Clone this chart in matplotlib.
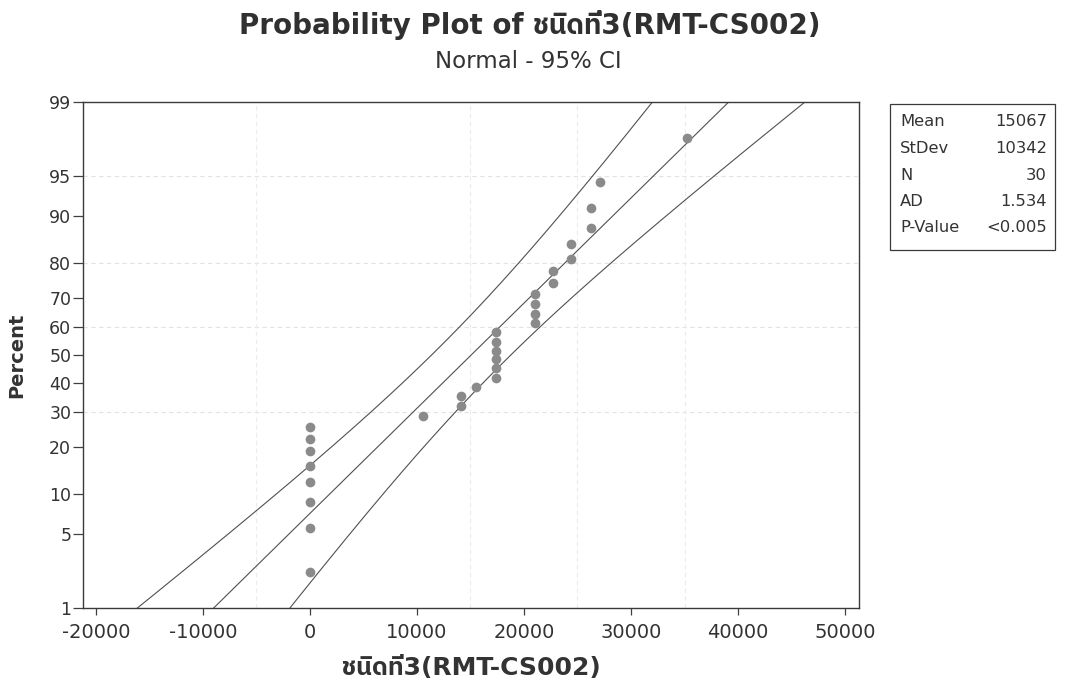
import numpy as np
import matplotlib
matplotlib.use("Agg")
import matplotlib.pyplot as plt
from statistics import NormalDist

# ค่าที่อ่านจากกราฟ (30 ตัวอย่าง)
values = [0, 0, 0, 0, 0, 0, 0, 0,
          10600, 14100, 14100, 15500,
          17400, 17400, 17400, 17400, 17400, 17400,
          21000, 21000, 21000, 21000,
          22700, 22700, 24400, 24400, 26300, 26300,
          27100, 35200]

stat_names = ["Mean", "StDev", "N", "AD", "P-Value"]
stat_values = ["15067", "10342", "30", "1.534", "<0.005"]
MEAN = 15067
STDEV = 10342

y_ticks = [1, 5, 10, 20, 30, 40, 50, 60, 70, 80, 90, 95, 99]
x_ticks = [-20000, -10000, 0, 10000, 20000, 30000, 40000, 50000]
grid_y = [95, 80, 60, 30]
grid_x = [-5000, 15000, 25000, 35000]

FONT = ["DejaVu Sans", "IBM Plex Sans Thai"]
plt.rcParams["font.family"] = FONT

W, H = 1066, 685
nd = NormalDist()
def z(p):
    return nd.inv_cdf(p / 100.0)

x = np.sort(np.array(values, dtype=float))
n = len(x)
ranks = np.arange(1, n + 1)
pct = (ranks - 0.3) / (n + 0.4) * 100
zp = np.array([z(p) for p in pct])

# เส้น fit และช่วงความเชื่อมั่น 95%
zz = np.linspace(z(0.5), z(99.5), 200)
fit = MEAN + zz * STDEV
se = np.sqrt(STDEV**2 / n + zz**2 * STDEV**2 / (2 * n))
lo = fit - 1.96 * se
hi = fit + 1.96 * se

fig = plt.figure(figsize=(W / 100, H / 100), dpi=100)
ax = fig.add_axes([83 / W, 1 - 608 / H, 776 / W, 506 / H])

for g in grid_y:
    ax.axhline(z(g), color="#e3e3e3", lw=0.8, ls=(0, (4, 3)), zorder=0)
for g in grid_x:
    ax.axvline(g, color="#ececec", lw=0.8, ls=(0, (4, 3)), zorder=0)

ax.plot(fit, zz, color="#505050", lw=0.8)
ax.plot(lo, zz, color="#505050", lw=0.8)
ax.plot(hi, zz, color="#505050", lw=0.8)
ax.plot(x, zp, "o", color="#8a8a8a", markersize=7, markeredgewidth=0, zorder=3)

ax.set_xlim(-21200, 51300)
ax.set_ylim(z(1), z(99))
ax.set_xticks(x_ticks)
ax.set_xticklabels([str(t) for t in x_ticks])
ax.set_yticks([z(t) for t in y_ticks])
ax.set_yticklabels([str(t) for t in y_ticks])
ax.tick_params(axis="x", direction="out", length=5, width=0.9, colors="#404040",
               labelsize=14, labelcolor="#333333", pad=6)
ax.tick_params(axis="y", direction="out", length=7, width=0.9, colors="#404040",
               labelsize=12.5, labelcolor="#333333", pad=1.5)
for s in ax.spines.values():
    s.set_color("#3a3a3a")
    s.set_linewidth(1.0)

ax.set_ylabel("Percent", fontsize=14, fontweight="bold", color="#333333", labelpad=16)
ax.set_xlabel("ชนิดที่3(RMT-CS002)", fontsize=18, fontweight="bold", color="#333333", labelpad=10)

fig.text(530 / W, 1 - 34 / H, "Probability Plot of ชนิดที่3(RMT-CS002)", ha="center",
         va="baseline", fontsize=20, fontweight="bold", color="#303030")
fig.text(528 / W, 1 - 68 / H, "Normal - 95% CI", ha="center", va="baseline",
         fontsize=16.5, color="#333333")

# กล่องสถิติ
bx0, bx1 = 890 / W, 1055 / W
by0, by1 = 1 - 250 / H, 1 - 104 / H
fig.patches.append(plt.Rectangle((bx0, by0), bx1 - bx0, by1 - by0, transform=fig.transFigure,
                                 fill=False, edgecolor="#3a3a3a", lw=0.9))
for i, (k, v) in enumerate(zip(stat_names, stat_values)):
    yy = 1 - (122 + i * 26.5) / H
    fig.text(900 / W, yy, k, ha="left", va="center", fontsize=11.8, color="#333333")
    fig.text(1047 / W, yy, v, ha="right", va="center", fontsize=11.8, color="#333333")

fig.savefig("out.png", dpi=100, facecolor="white")
